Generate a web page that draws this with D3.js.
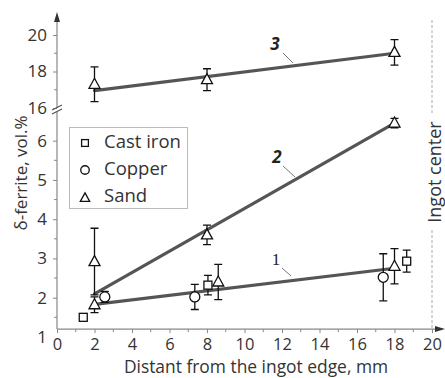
<!DOCTYPE html>
<html>
<head>
<meta charset="utf-8">
<script src="https://cdn.jsdelivr.net/npm/d3@7"></script>
<style>
  body { margin: 0; background: #fff; }
  text { font-family: "Open Sans", sans-serif; }
</style>
</head>
<body>
<svg id="chart" width="445" height="378"></svg>
<script>
// Data
const sandHiX = [2, 8, 18];
const sandHiY = [17.3, 17.55, 19.05];
const sandHiErr = [0.95, 0.6, 0.7];

const sandX = [2, 2, 8, 8.6, 18, 18];
const sandY = [2.92, 1.82, 3.6, 2.4, 6.45, 2.8];
const sandErr = [0.85, 0.2, 0.25, 0.45, 0.12, 0.45];

const castX = [1.4, 8.05, 18.65];
const castY = [1.5, 2.32, 2.93];
const castErr = [0, 0.25, 0.28];

const copperX = [2.55, 7.35, 17.4];
const copperY = [2.02, 2.02, 2.52];
const copperErr = [0.14, 0.32, 0.6];

// fitted lines: [x0, x1], [y0, y1]
const fitX = [2, 18];
const fit1Y = [1.83, 2.75];
const fit2Y = [2.1, 6.45];
const fit3Y = [16.95, 19.0];

const xTicks = [0, 2, 4, 6, 8, 10, 12, 14, 16, 18, 20];
const yLowTicks = [1, 2, 3, 4, 5, 6];
const yHighTicks = [16, 18, 20];
const legendNames = ["Cast iron", "Copper", "Sand"];

const svg = d3.select("#chart");

const x = d3.scaleLinear().domain([0, 20]).range([57, 432]);
const yLow = d3.scaleLinear().domain([2, 6]).range([297.7, 140.7]);
const yHigh = d3.scaleLinear().domain([16, 20]).range([108, 35]);
const axisY = yLow(1.2);

const axisCol = "#888", labCol = "#333";

// Ingot center dashed line
svg.append("line")
    .attr("x1", x(20)).attr("x2", x(20))
    .attr("y1", 20).attr("y2", axisY)
    .attr("stroke", "#aaa").attr("stroke-dasharray", "3,2");
const ingot = svg.append("g").attr("transform", `translate(${x(20) + 9},172) rotate(-90)`);
ingot.append("rect").attr("x", -58).attr("y", -18).attr("width", 116).attr("height", 22).attr("fill", "#fff");
ingot.append("text").attr("text-anchor", "middle").attr("font-size", 18).attr("fill", labCol).text("Ingot center");

// X axis
const xAxis = svg.append("g").attr("transform", `translate(0,${axisY})`)
    .call(d3.axisBottom(x).tickValues(xTicks).tickSize(4).tickPadding(5).tickFormat(d3.format("d")));
xAxis.select(".domain").remove();
xAxis.selectAll("line").attr("stroke", axisCol);
xAxis.selectAll("text").attr("font-size", 16.5).attr("fill", labCol).style("font-family", "Open Sans");
svg.append("g").selectAll("line").data(d3.range(1, 20, 2)).join("line")
    .attr("x1", d => x(d)).attr("x2", d => x(d))
    .attr("y1", axisY).attr("y2", axisY + 3).attr("stroke", axisCol);

// Y axis (low part)
const yAxisLow = svg.append("g").attr("transform", `translate(${x(0)},0)`)
    .call(d3.axisLeft(yLow).tickValues(yLowTicks).tickSize(4).tickPadding(6).tickFormat(d3.format("d")));
yAxisLow.select(".domain").remove();
yAxisLow.selectAll("line").attr("stroke", axisCol);
yAxisLow.selectAll(".tick").filter(d => d === 1).select("line").remove();
yAxisLow.selectAll("text").attr("font-size", 17).attr("fill", labCol).style("font-family", "Open Sans");
svg.append("g").selectAll("line").data([1.5, 2.5, 3.5, 4.5, 5.5]).join("line")
    .attr("x1", x(0) - 3).attr("x2", x(0))
    .attr("y1", d => yLow(d)).attr("y2", d => yLow(d)).attr("stroke", axisCol);

// Y axis (high part)
const yAxisHigh = svg.append("g").attr("transform", `translate(${x(0)},0)`)
    .call(d3.axisLeft(yHigh).tickValues(yHighTicks).tickSize(4).tickPadding(6).tickFormat(d3.format("d")));
yAxisHigh.select(".domain").remove();
yAxisHigh.selectAll("line").attr("stroke", axisCol);
yAxisHigh.selectAll("text").attr("font-size", 17).attr("fill", labCol).style("font-family", "Open Sans");
svg.append("g").selectAll("line").data([17, 19]).join("line")
    .attr("x1", x(0) - 3).attr("x2", x(0))
    .attr("y1", d => yHigh(d)).attr("y2", d => yHigh(d)).attr("stroke", axisCol);

// axis lines with arrows
svg.append("line").attr("x1", x(0)).attr("x2", x(0)).attr("y1", axisY).attr("y2", 112)
    .attr("stroke", axisCol).attr("stroke-width", 1.2);
svg.append("line").attr("x1", x(0)).attr("x2", x(0)).attr("y1", 108).attr("y2", 20)
    .attr("stroke", axisCol).attr("stroke-width", 1.2);
svg.append("path").attr("d", `M${x(0)},12 L${x(0) - 3},22 L${x(0) + 3},22 Z`).attr("fill", "#333");
svg.append("line").attr("x1", x(0)).attr("x2", 438).attr("y1", axisY).attr("y2", axisY)
    .attr("stroke", axisCol).attr("stroke-width", 1.2);
svg.append("path").attr("d", `M445,${axisY} L435,${axisY - 3} L435,${axisY + 3} Z`).attr("fill", "#333");
// break mark
svg.append("path").attr("d", `M${x(0) - 5},110 L${x(0) + 5},105 M${x(0) - 5},114 L${x(0) + 5},109`)
    .attr("stroke", "#555").attr("stroke-width", 1.2).attr("fill", "none");

// fitted lines
const fits = [[fit1Y, yLow], [fit2Y, yLow], [fit3Y, yHigh]];
fits.forEach(([ys, sc]) => {
    svg.append("line")
        .attr("x1", x(fitX[0])).attr("y1", sc(ys[0]))
        .attr("x2", x(fitX[1])).attr("y2", sc(ys[1]))
        .attr("stroke", "#555").attr("stroke-width", 3.2).attr("stroke-linecap", "round");
});

// line labels with leaders
const leaders = [
    { t: "3", lx: 275, ly: 50, x1: 283, y1: 53, x2: 293, y2: 63, bold: true },
    { t: "2", lx: 277, ly: 163, x1: 283, y1: 166, x2: 295, y2: 177, bold: true },
    { t: "1", lx: 276, ly: 265, x1: 282, y1: 268, x2: 291, y2: 276, bold: false }
];
leaders.forEach(d => {
    svg.append("line").attr("x1", d.x1).attr("y1", d.y1).attr("x2", d.x2).attr("y2", d.y2)
        .attr("stroke", "#777").attr("stroke-width", 1);
    const t = svg.append("text").attr("x", d.lx).attr("y", d.ly).attr("text-anchor", "middle")
        .attr("font-size", 17).attr("fill", "#222").text(d.t);
    if (d.bold) t.attr("font-weight", "bold").attr("font-style", "italic");
    else t.style("font-family", "Liberation Serif");
});

// markers
function triangle(g, cx, cy, s = 1) {
    g.append("path").attr("d", `M${cx},${cy - 6 * s} L${cx + 5.5 * s},${cy + 4 * s} L${cx - 5.5 * s},${cy + 4 * s} Z`)
        .attr("fill", "#fff").attr("stroke", "#111").attr("stroke-width", 1.3);
}
function square(g, cx, cy, s = 1) {
    g.append("rect").attr("x", cx - 4 * s).attr("y", cy - 4 * s).attr("width", 8 * s).attr("height", 8 * s)
        .attr("fill", "#fff").attr("stroke", "#111").attr("stroke-width", 1.3);
}
function circle(g, cx, cy, s = 1) {
    g.append("circle").attr("cx", cx).attr("cy", cy).attr("r", 5 * s)
        .attr("fill", "#fff").attr("stroke", "#111").attr("stroke-width", 1.3);
}
function errBar(g, cx, y0, y1) {
    g.append("path").attr("d", `M${cx},${y0} L${cx},${y1} M${cx - 4},${y0} L${cx + 4},${y0} M${cx - 4},${y1} L${cx + 4},${y1}`)
        .attr("stroke", "#111").attr("stroke-width", 1.3).attr("fill", "none");
}
function series(xs, ys, es, sc, mark) {
    const g = svg.append("g");
    xs.forEach((xv, i) => {
        if (es[i] > 0) errBar(g, x(xv), sc(ys[i] - es[i]), sc(ys[i] + es[i]));
    });
    xs.forEach((xv, i) => mark(g, x(xv), sc(ys[i])));
}
series(sandHiX, sandHiY, sandHiErr, yHigh, triangle);
series(sandX, sandY, sandErr, yLow, triangle);
series(castX, castY, castErr, yLow, square);
series(copperX, copperY, copperErr, yLow, circle);

// legend
const leg = svg.append("g");
leg.append("rect").attr("x", 69.5).attr("y", 127.5).attr("width", 118).attr("height", 81)
    .attr("fill", "#fff").attr("stroke", "#bbb");
const markers = [square, circle, triangle];
legendNames.forEach((n, i) => {
    const base = 148 + i * 27;
    markers[i](leg, 85, base - 5 + (i === 2 ? 1 : 0), 0.85);
    leg.append("text").attr("x", 104).attr("y", base).attr("font-size", 18.5).attr("fill", labCol).text(n);
});

// axis titles
svg.append("text").attr("x", 256).attr("y", 373).attr("text-anchor", "middle")
    .attr("font-size", 17.4).attr("fill", labCol).text("Distant from the ingot edge, mm");
svg.append("text").attr("transform", "translate(27,173) rotate(-90)").attr("text-anchor", "middle")
    .attr("font-size", 17).attr("fill", labCol).text("δ-ferrite, vol.%");
</script>
</body>
</html>
